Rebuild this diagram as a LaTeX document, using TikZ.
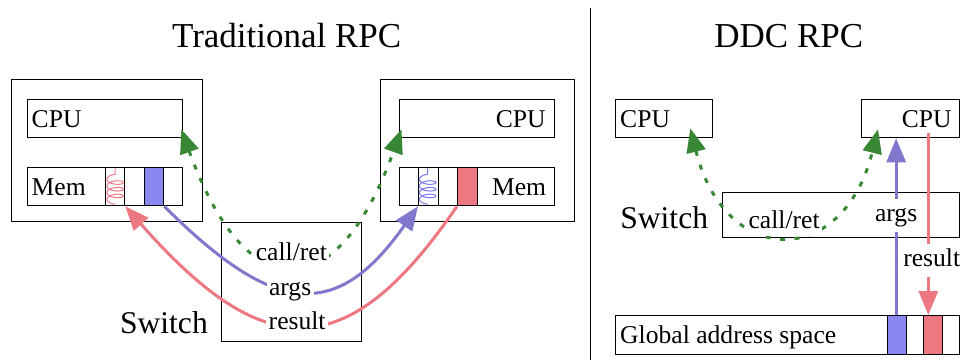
\documentclass[tikz,border=0pt]{standalone}
\usepackage{fontspec}
\setmainfont{Liberation Serif}
\usetikzlibrary{arrows.meta,decorations.pathmorphing}

\definecolor{callgreen}{RGB}{56,135,52}
\definecolor{argline}{RGB}{128,120,204}
\definecolor{resline}{RGB}{238,120,130}
\definecolor{argfill}{RGB}{136,136,240}
\definecolor{resfill}{RGB}{238,120,130}
\definecolor{coilred}{RGB}{242,120,135}
\definecolor{coilblue}{RGB}{120,120,245}

\tikzset{
  box/.style={draw, line width=1.3pt, inner sep=0pt, anchor=north west},
  intext/.style={inner sep=0pt, text height=17pt, text depth=0pt},
  lab/.style={fill=white, text=black, inner xsep=2.5pt, inner ysep=4.5pt,
              text height=18pt, text depth=6.5pt},
  bighead/.style={-{Triangle[length=24pt,width=19pt]}},
  callret/.style={color=callgreen, line width=3pt, dash pattern=on 5pt off 9.5pt,
                  {Triangle[length=24pt,width=19pt]}-{Triangle[length=24pt,width=19pt]}},
  argflow/.style={color=argline, line width=3pt, bighead},
  resflow/.style={color=resline, line width=3pt, bighead},
  coilcell/.style={line width=1pt, decorate,
                   decoration={coil, amplitude=8.3pt, segment length=6.7pt, aspect=0.4}},
  bigfont/.style={font=\fontsize{31.6}{38}\selectfont},
  titlefont/.style={font=\fontsize{35}{42}\selectfont},
}

\begin{document}
\begin{tikzpicture}[x=1pt, y=1pt, font=\fontsize{25.6}{30}\selectfont]
\useasboundingbox (0,0) rectangle (964,360);

% headings
\node[titlefont, anchor=base] (titleA) at (286.7,312.7) {Traditional RPC};
\node[titlefont, anchor=base] (titleB) at (788.8,312.7) {DDC RPC};

% separator between the two halves
\draw[line width=1.3pt] (590.5,352) -- (590.5,0);

% ---------- traditional RPC: left host ----------
\node[box, minimum width=191pt, minimum height=142pt] (hostA) at (11,281) {};
\node[box, minimum width=155pt, minimum height=38pt] (cpuA) at (27,261) {};
\node[box, minimum width=155pt, minimum height=38pt] (memA) at (27,193) {};
\node[box, minimum width=19pt, minimum height=38pt] (wavyA) at (105,193) {};
\node[box, minimum width=19pt, minimum height=38pt, fill=argfill] (argA) at (144,193) {};
\node[intext, anchor=west] (cpuAtext) at ([xshift=4.5pt]cpuA.west) {CPU};
\node[intext, anchor=west] (memAtext) at ([xshift=4.5pt]memA.west) {Mem};
\draw[coilcell, coilred] ([yshift=2pt]wavyA.south) -- ([yshift=-1pt]wavyA.north);

% ---------- traditional RPC: right host ----------
\node[box, minimum width=194pt, minimum height=142pt] (hostB) at (379.5,281) {};
\node[box, minimum width=155pt, minimum height=38pt] (cpuB) at (399,261) {};
\node[box, minimum width=155pt, minimum height=38pt] (memB) at (399,193) {};
\node[box, minimum width=20pt, minimum height=38pt] (wavyB) at (418,193) {};
\node[box, minimum width=19.5pt, minimum height=38pt, fill=resfill] (resB) at (457,193) {};
\node[intext, anchor=east] (cpuBtext) at ([xshift=-9.5pt]cpuB.east) {CPU};
\node[intext, anchor=east] (memBtext) at ([xshift=-9pt]memB.east) {Mem};
\draw[coilcell, coilblue] ([xshift=-1pt,yshift=2pt]wavyB.south) -- ([xshift=-1pt,yshift=-1pt]wavyB.north);

% ---------- traditional RPC: switch ----------
\node[box, minimum width=139.5pt, minimum height=119pt] (swA) at (221,138) {};
\node[bigfont, anchor=base east, inner sep=0pt] (swAtext)
  at ([xshift=-13pt,yshift=9.3pt]swA.south west) {Switch};

\coordinate (gA) at ([xshift=-2pt,yshift=9pt]cpuA.south east);
\coordinate (gB) at ([xshift=2.5pt,yshift=9pt]cpuB.south west);
\draw[callret] (gA) .. controls +(65,-180) and +(-65,-180) ..
  node[lab, pos=.5, yshift=9.4pt] (crA) {call/ret} (gB);
\draw[argflow] (argA.south east) .. controls +(113,-113) and +(-80,-113) ..
  node[lab, pos=.444] (argsA) {args} (wavyB.south west);
\draw[resflow] (resB.south west) .. controls +(-109,-159) and +(140,-159) ..
  node[lab, pos=.518, yshift=2pt] (resA) {result} (wavyA.south east);

% ---------- DDC RPC ----------
\node[box, minimum width=97pt, minimum height=38pt] (cpuC) at (615,261) {};
\node[intext, anchor=west] (cpuCtext) at ([xshift=5pt]cpuC.west) {CPU};
\node[box, minimum width=98pt, minimum height=38pt] (cpuD) at (861,261) {};
\node[intext, anchor=east] (cpuDtext) at ([xshift=-8.5pt]cpuD.east) {CPU};
\node[box, minimum width=237pt, minimum height=45pt] (swB) at (722,168) {};
\node[bigfont, anchor=base east, inner sep=0pt] (swBtext)
  at ([xshift=-13.7pt,yshift=10.3pt]swB.south west) {Switch};
\node[box, minimum width=344pt, minimum height=39pt] (gas) at (615,45) {};
\node[intext, anchor=west] (gastext) at ([xshift=5pt]gas.west) {Global address space};
\node[box, minimum width=19pt, minimum height=39pt, fill=argfill] (argC) at (887,45) {};
\node[box, minimum width=19pt, minimum height=39pt, fill=resfill] (resC) at (923,45) {};

\coordinate (gC) at ([xshift=-23pt,yshift=10pt]cpuC.south east);
\coordinate (gD) at ([xshift=17pt,yshift=9pt]cpuD.south west);
\draw[callret] (gC) .. controls +(35,-140) and +(-35,-140) ..
  node[lab, inner ysep=1.5pt, pos=.5, yshift=11.5pt] (crB) {call/ret} (gD);

\coordinate (aC) at ([xshift=-1pt]argC.north);
\draw[argflow] (aC) -- node[lab, pos=.562] (argsB) {args} (aC |- cpuD.south);

\coordinate (rD) at ([xshift=67.3pt,yshift=5.3pt]cpuD.south west);
\draw[resflow] (rD) -- node[lab, pos=.70, xshift=3.4pt] (resD) {result} (rD |- gas.north);
\end{tikzpicture}
\end{document}
